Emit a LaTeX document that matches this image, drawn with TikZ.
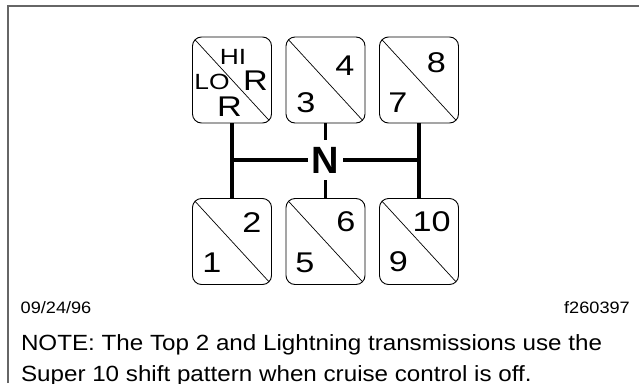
\documentclass[tikz,border=0pt]{standalone}
\usepackage{fontspec}
\setmainfont{Liberation Sans}[FakeStretch=1.1]
\newfontfamily\gatefont{Liberation Sans}[FakeStretch=1.2]
\newfontfamily\neutralfont{Liberation Sans Bold}
\usepackage{tikz}
\usetikzlibrary{positioning,calc}

\begin{document}
\begin{tikzpicture}[x=1pt, y=-1pt,
  gate/.style={draw,rounded corners=9pt,line width=0.9pt,inner sep=0pt,
    minimum width=79pt,minimum height=86pt,
    path picture={\draw[line width=0.7pt] (path picture bounding box.north west)
      -- (path picture bounding box.south east);}},
  gear/.style={inner sep=0pt,font=\gatefont\fontsize{28.5}{28.5}\selectfont},
  hilo/.style={inner sep=0pt,font=\gatefont\fontsize{22}{22}\selectfont},
  rail/.style={line width=3.6pt},
  frame/.style={draw=black!60,line width=1.6pt},
  caption/.style={inner sep=0pt,font=\fontsize{16.5}{16.5}\selectfont},
  note/.style={inner sep=0pt,anchor=base west,font=\fontsize{22}{22}\selectfont}]
  \useasboundingbox (0,0) rectangle (639,383);
  \draw[frame] (8,383) -- (8,6) -- (639,6);
  \node[gate] (t1) at (232,80) {}; \node[gate] (t2) at (325.5,80) {}; \node[gate] (t3) at (419,80) {};
  \node[gate] (b1) at (232,241.5) {}; \node[gate] (b2) at (325.5,241.5) {}; \node[gate] (b3) at (419,241.5) {};
  \node[hilo] (hi) at (233,56.7) {HI}; \node[gear] (hir) at (255.5,81) {R};
  \node[hilo] (lo) at (212,82) {LO}; \node[gear] (lor) at (229.5,106.5) {R};
  \node[gear] (g4) at (345,66) {4}; \node[gear] (g3) at (306,103) {3};
  \node[gear] (g8) at (436.5,63) {8}; \node[gear] (g7) at (398,103) {7};
  \node[gear] (g2) at (252,222.5) {2}; \node[gear] (g1) at (212,262.5) {1};
  \node[gear] (g6) at (346,222) {6}; \node[gear] (g5) at (305,262.5) {5};
  \node[gear] (g10) at (431.7,222) {10}; \node[gear] (g9) at (398.3,262) {9};
  \node[inner xsep=4pt,inner ysep=7pt,font=\neutralfont\fontsize{38}{38}\selectfont] (N) at (325.5,160) {N};
  \coordinate (jl) at (t1 |- N); \coordinate (jr) at (t3 |- N);
  \draw[rail] (t1) -- (b1); \draw[rail] (t3) -- (b3);
  \draw[rail] (t2) -- (N); \draw[rail] (N) -- (b2);
  \draw[rail] (jl) -- (N); \draw[rail] (N) -- (jr);
  \node[caption,anchor=base west] (date) at (20.5,313.3) {09/24/96};
  \node[caption,anchor=base east] (fig) at (630,313.3) {f260397};
  \node[note] (note1) at (20.8,350) {NOTE: The Top 2 and Lightning transmissions use the};
  \node[note] (note2) at ([yshift=-31pt]note1.base west) {Super 10 shift pattern when cruise control is off.};
\end{tikzpicture}
\end{document}
